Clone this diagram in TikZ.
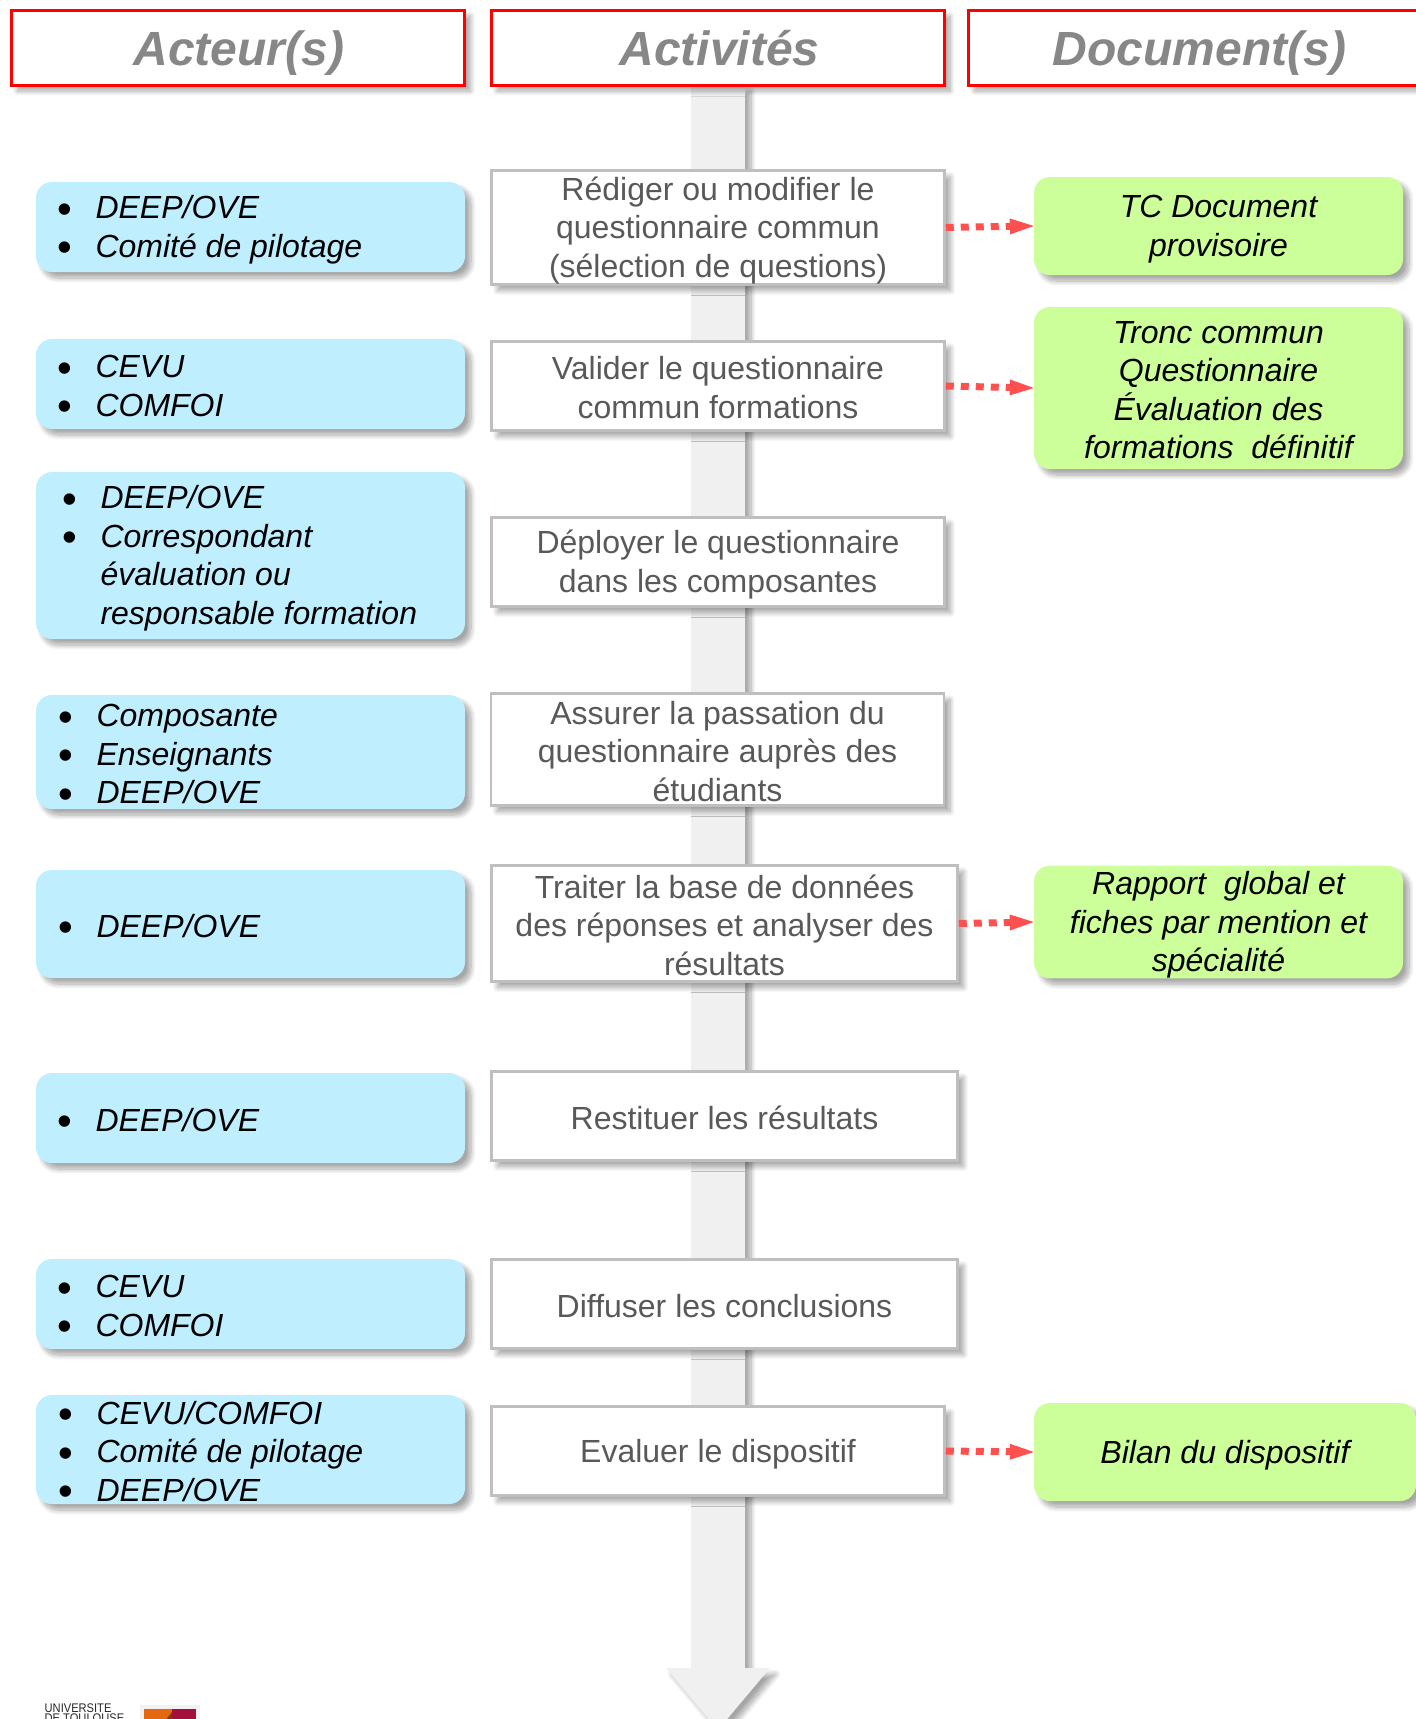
\documentclass[tikz,border=0pt]{standalone}
\usepackage{fontspec}
\setmainfont{Liberation Sans}
\usetikzlibrary{arrows.meta,shadows.blur}
\newcommand{\tstrut}{\rule[-3pt]{0pt}{32pt}}
\newcommand{\bigbul}{\raisebox{-4.5pt}[0pt][0pt]{\upshape\fontsize{42}{38.5}\selectfont\textbullet}}
\newcommand{\bul}[1]{\makebox[37pt][l]{\hspace{-1pt}\bigbul}#1}
\definecolor{blueBox}{HTML}{BFEFFF}
\definecolor{greenBox}{HTML}{CCFF99}
\definecolor{arrowRed}{HTML}{FF5050}
\definecolor{shaft}{HTML}{F0F0F0}
\definecolor{logoOrange}{HTML}{E4680F}
\definecolor{logoRed}{HTML}{A50F3C}
\definecolor{logoBrown}{HTML}{7A3A1E}
\tikzset{
  softshadow/.style={blur shadow={shadow xshift=6pt,shadow yshift=-6pt,shadow blur radius=5pt,shadow opacity=35,shadow blur steps=10}},
  header/.style={draw=red,line width=3pt,fill=white,softshadow,font=\fontsize{48}{55}\selectfont\bfseries\itshape,text=black!47,inner sep=0pt,text height=35pt,text depth=0pt,minimum height=75pt},
  actbox/.style={draw=black!25,line width=2.5pt,fill=white,softshadow,font=\fontsize{32}{38.5}\selectfont,text=black!65,align=flush center,text width=445pt,inner sep=0pt,execute at begin node=\tstrut,execute at end node=\tstrut},
  actor/.style={fill=blueBox,rounded corners=16pt,softshadow,font=\fontsize{32}{38.5}\selectfont\itshape,align=flush left,inner sep=0pt,text=black,minimum width=429pt,execute at begin node=\tstrut,execute at end node=\tstrut},
  docbox/.style={fill=greenBox,rounded corners=16pt,softshadow,font=\fontsize{32}{38.5}\selectfont\itshape,align=flush center,text width=360pt,inner sep=0pt,text=black,execute at begin node=\tstrut,execute at end node=\tstrut},
  produces/.style={draw=arrowRed,line width=7pt,dash pattern=on 8pt off 7pt,-{Triangle[length=24pt,width=16pt,fill=arrowRed,line width=0pt]}},
}
\begin{document}
\begin{tikzpicture}[x=1pt,y=-1pt]
\useasboundingbox (0,0) rectangle (1416,1719);
\clip (0,0) rectangle (1416,1719);
% central arrow
\fill[shaft,softshadow] (691,85) -- (745,85) -- (745,1668) -- (770,1668) -- (718,1730) -- (666,1668) -- (691,1668) -- cycle;
% headers
\node[header,minimum width=453pt] (hA) at (238,47.5) {\hspace{2pt}Acteur(s)};
\node[header,minimum width=453pt] (hB) at (717.5,47.5) {\hspace{4pt}Activités};
\node[header,minimum width=462pt,anchor=west] (hC) at (967,47.5) {Document(s)};
% actors
\node[actor,minimum height=90pt,text width=384pt] (p1) at (250.5,227) {\bul{DEEP/OVE}\\\bul{Comité de pilotage}};
\node[actor,minimum height=90pt,text width=384pt] (p2) at (250.5,384) {\bul{CEVU}\\\bul{COMFOI}};
\node[actor,minimum height=167pt,text width=374pt] (p3) at (250.5,555.5) {\bul{DEEP/OVE}\\\bul{Correspondant}\\\hspace*{37pt}évaluation ou\\\hspace*{37pt}responsable formation};
\node[actor,minimum height=114pt,text width=382pt] (p4) at (250.5,752) {\bul{Composante}\\\bul{Enseignants}\\\bul{DEEP/OVE}};
\node[actor,minimum height=108pt,text width=382pt] (p5) at (250.5,924) {\bul{DEEP/OVE}};
\node[actor,minimum height=90pt,text width=384pt] (p6) at (250.5,1118) {\bul{DEEP/OVE}};
\node[actor,minimum height=90pt,text width=384pt] (p7) at (250.5,1304) {\bul{CEVU}\\\bul{COMFOI}};
\node[actor,minimum height=109pt,text width=382pt] (p8) at (250.5,1449.5) {\bul{CEVU/COMFOI}\\\bul{Comité de pilotage}\\\bul{DEEP/OVE}};
% activities
\node[actbox,minimum width=453pt,minimum height=114pt] (a1) at (718,227.5) {Rédiger ou modifier le\\questionnaire commun\\(sélection de questions)};
\node[actbox,minimum width=453pt,minimum height=89pt] (a2) at (718,386) {Valider le questionnaire\\commun formations};
\node[actbox,minimum width=453pt,minimum height=89pt] (a3) at (718,562) {Déployer le questionnaire\\dans les composantes};
\node[actbox,minimum width=453pt,minimum height=112pt] (a4) at (717.5,749.5) {Assurer la passation du\\questionnaire auprès des\\étudiants};
\node[actbox,minimum width=466pt,minimum height=116pt] (a5) at (724.5,923.5) {Traiter la base de données\\des réponses et analyser des\\résultats};
\node[actbox,minimum width=466pt,minimum height=89pt] (a6) at (724.5,1116) {Restituer les résultats};
\node[actbox,minimum width=466pt,minimum height=89pt] (a7) at (724.5,1304) {Diffuser les conclusions};
\node[actbox,minimum width=453pt,minimum height=89pt] (a8) at (718,1451) {Evaluer le dispositif};
% documents
\node[docbox,minimum width=369pt,minimum height=98pt] (d1) at (1218.5,226) {TC Document\\provisoire};
\node[docbox,minimum width=369pt,minimum height=162pt] (d2) at (1218.5,388) {Tronc commun\\Questionnaire\\Évaluation des\\formations\ \ définitif};
\node[docbox,minimum width=369pt,minimum height=112pt] (d3) at (1218.5,922) {Rapport\ \ global et\\fiches par mention et\\spécialité};
\node[docbox,minimum width=382pt,minimum height=98pt] (d4) at (1225,1452) {Bilan du dispositif};
% connectors
\draw[produces] (a1.east) -- (d1.west);
\draw[produces] (a2.east) -- (d2.west);
\draw[produces] (a5.east) -- (d3.west);
\draw[produces] (a8.east) -- (d4.west);
% logo
\node[anchor=north west,inner sep=0pt,font=\fontsize{12.5}{9.5}\selectfont,align=left,text=black!85] (logo) at (44.5,1704) {\scalebox{.89}[1]{UNIVERSITE}\\\scalebox{.89}[1]{DE TOULOUSE}};
\fill[black!5] (140,1705) rectangle (200,1725);
\fill[logoOrange] (144,1709) rectangle (172,1725);
\fill[logoRed] (172,1709) rectangle (196,1725);
\fill[logoBrown] (162,1725) -- (172,1712) -- (172,1725) -- cycle;
\end{tikzpicture}
\end{document}
